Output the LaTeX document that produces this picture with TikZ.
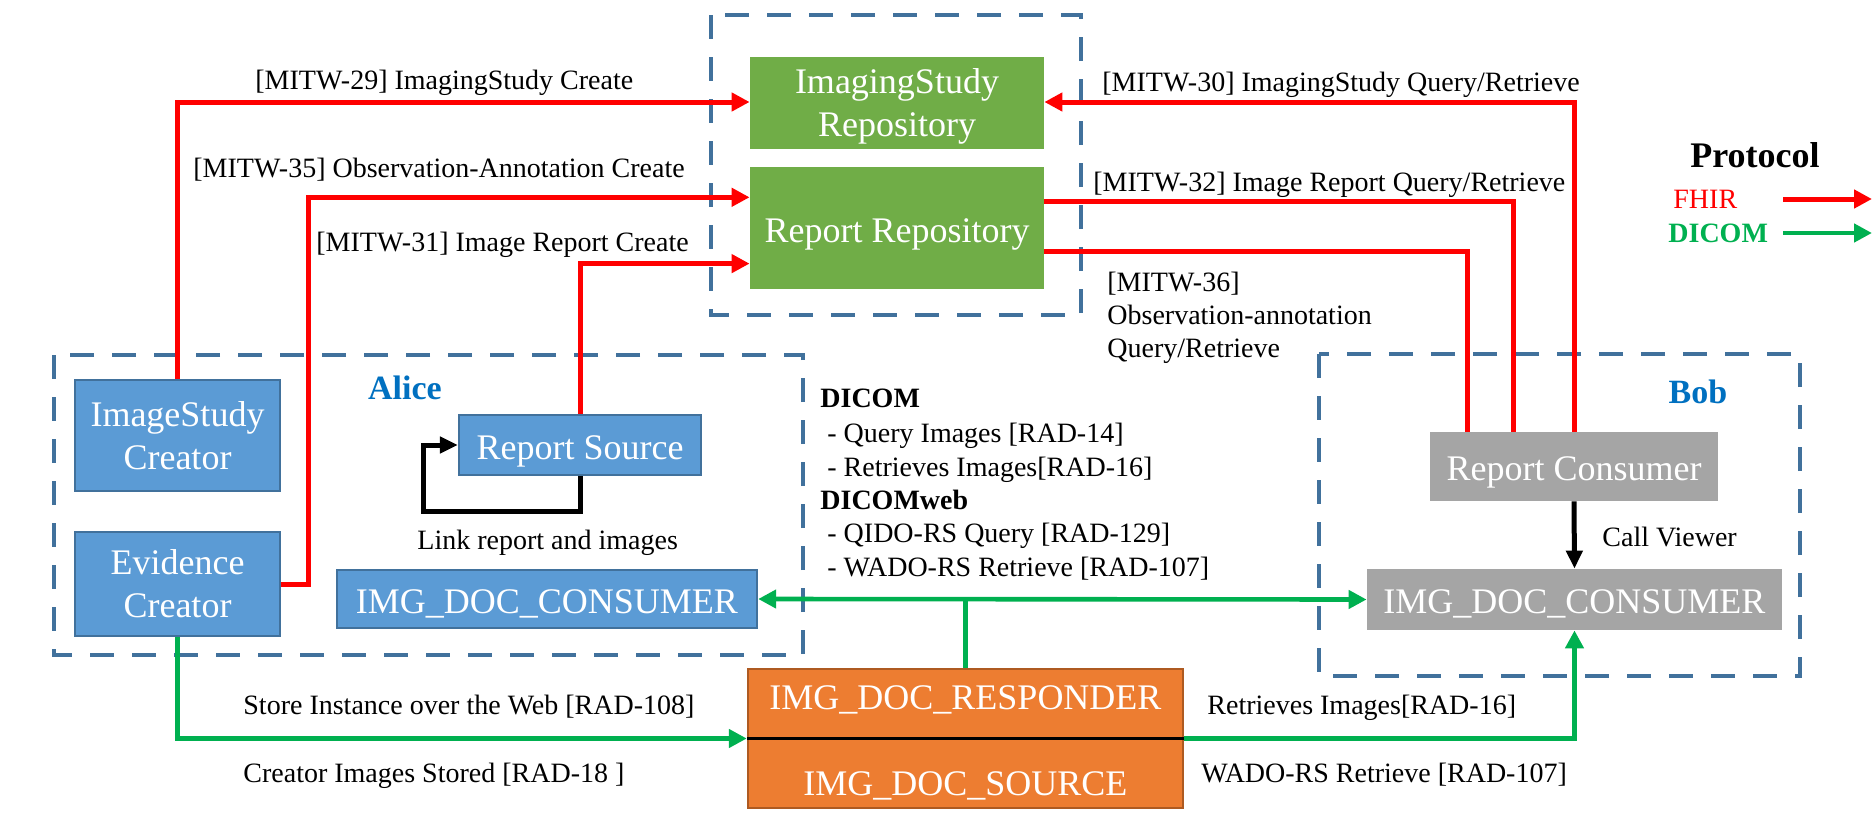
\documentclass[tikz,border=0pt]{standalone}
\usepackage{fontspec}
\setmainfont{Liberation Serif}
\usetikzlibrary{arrows.meta,calc}
\definecolor{fhirred}{RGB}{255,0,0}
\definecolor{dicomgreen}{RGB}{0,176,80}
\definecolor{dashblue}{RGB}{65,113,156}
\definecolor{boxblue}{RGB}{91,155,213}
\definecolor{boxgreen}{RGB}{112,173,71}
\definecolor{boxgray}{RGB}{165,165,165}
\definecolor{boxorange}{RGB}{237,125,49}
\definecolor{orangeedge}{RGB}{174,90,33}
\definecolor{namecol}{RGB}{0,112,192}
\begin{document}
\begin{tikzpicture}[x=0.5pt,y=-0.5pt,
  lab/.style={font=\fontsize{14pt}{17pt}\selectfont, inner sep=0pt, anchor=base west},
  boldlab/.style={lab, font=\fontsize{14pt}{17pt}\selectfont\bfseries},
  boxtext/.style={font=\fontsize{18pt}{21.5pt}\selectfont, text=white, align=center, inner sep=0pt},
  framed/.style={boxtext, text depth=0pt},
  oneline/.style={text height=14pt},
  bluebox/.style={framed, fill=boxblue, draw=dashblue, line width=1.2pt},
  greenbox/.style={framed, fill=boxgreen},
  graybox/.style={framed, fill=boxgray},
  orangebox/.style={fill=boxorange, draw=orangeedge, line width=1.2pt, inner sep=0pt},
  groupbox/.style={draw=dashblue, line width=2.3pt, dash pattern=on 12pt off 9pt},
  namelab/.style={font=\fontsize{17pt}{20pt}\selectfont\bfseries, text=namecol, inner sep=0pt, anchor=base},
  fhirline/.style={draw=fhirred, line width=2.5pt},
  fhirarrow/.style={fhirline, -{Triangle[length=9pt,width=9pt]}},
  dicomline/.style={draw=dicomgreen, line width=2.3pt},
  dicomarrow/.style={dicomline, -{Triangle[length=9pt,width=9pt]}},
  dicomboth/.style={dicomline, {Triangle[length=9pt,width=9pt]}-{Triangle[length=9pt,width=9pt]}},
  blackarrow/.style={draw=black, line width=2.5pt, -{Triangle[length=9pt,width=8pt]}}
]
\useasboundingbox (0,0) rectangle (1876,830);

% group frames
\draw[groupbox] (711,15) rectangle (1081,315);
\draw[groupbox] (54,355) rectangle (803,655);
\draw[groupbox] (1319,354) rectangle (1800,676);

% nodes
\node[greenbox, minimum width=147pt, minimum height=46pt] (isr) at (897,103) {ImagingStudy\\Repository};
\node[greenbox, oneline, minimum width=147pt, minimum height=61pt] (rr) at (897,228) {Report Repository};
\node[bluebox, minimum width=102.5pt, minimum height=55.5pt] (isc) at (177.5,435.5) {ImageStudy\\Creator};
\node[bluebox, minimum width=102.5pt, minimum height=52pt] (evid) at (177.5,584) {Evidence\\Creator};
\node[bluebox, oneline, minimum width=121pt, minimum height=30pt] (rs) at (580,445) {Report Source};
\node[bluebox, oneline, minimum width=210pt, minimum height=29pt] (acons) at (547,599) {IMG\_DOC\_CONSUMER};
\node[orangebox, minimum width=217.5pt, minimum height=69.5pt] (orange) at (965.5,738.5) {};
\node[boxtext, anchor=base] (resp) at (965.5,709) {IMG\_DOC\_RESPONDER};
\node[boxtext, anchor=base] (src) at (965.5,795) {IMG\_DOC\_SOURCE};
\node[graybox, oneline, minimum width=144pt, minimum height=34.5pt] (rc) at (1574,466.5) {Report Consumer};
\node[graybox, oneline, minimum width=207.5pt, minimum height=30.5pt] (bcons) at (1574.5,599.5) {IMG\_DOC\_CONSUMER};

% names
\node[namelab] (alice) at (405,399) {Alice};
\node[namelab] (bob) at (1698,403) {Bob};

% labels
\node[lab] (l29) at (255,89) {[MITW-29] ImagingStudy Create};
\node[lab] (l35) at (193,177) {[MITW-35] Observation-Annotation Create};
\node[lab] (l31) at (316,251) {[MITW-31] Image Report Create};
\node[lab] (l30) at (1102,91) {[MITW-30] ImagingStudy Query/Retrieve};
\node[lab] (l32) at (1093,191) {[MITW-32] Image Report Query/Retrieve};
\node[lab] (l36a) at (1107,291) {[MITW-36]};
\node[lab] (l36b) at (1107,324) {Observation-annotation};
\node[lab] (l36c) at (1107,357) {Query/Retrieve};
\node[lab] (llink) at (417,549) {Link report and images};
\node[lab] (lstore) at (243,714) {Store Instance over the Web [RAD-108]};
\node[lab] (lcreat) at (243,782) {Creator Images Stored [RAD-18 ]};
\node[lab] (lret) at (1207,714) {Retrieves Images[RAD-16]};
\node[lab] (lwado) at (1201,782) {WADO-RS Retrieve [RAD-107]};
\node[lab] (lcall) at (1602,546) {Call Viewer};

\node[boldlab] (d1) at (820,407) {DICOM};
\node[lab] (d2) at (827,442) {- Query Images [RAD-14]};
\node[lab] (d3) at (827,476) {- Retrieves Images[RAD-16]};
\node[boldlab] (d4) at (820,509) {DICOMweb};
\node[lab] (d5) at (827,542) {- QIDO-RS Query [RAD-129]};
\node[lab] (d6) at (827,576) {- WADO-RS Retrieve [RAD-107]};

% legend
\node[font=\fontsize{18pt}{21pt}\selectfont\bfseries, inner sep=0pt, anchor=base] (proto) at (1755,167) {Protocol};
\node[lab, text=fhirred] (lfhir) at (1673,208) {FHIR};
\node[boldlab, text=dicomgreen] (ldicom) at (1668,242) {DICOM};
\coordinate (fs) at (1783,199);
\coordinate (fe) at (1872,199);
\coordinate (ds) at (1783,233);
\coordinate (de) at (1872,233);
\draw[fhirarrow] (fs) -- (fe);
\draw[dicomarrow] (ds) -- (de);

% FHIR connectors
\draw[fhirarrow] (isc.north) |- ($(isr.north west)!.5!(isr.south west)+(0,-1)$);
\draw[fhirarrow] (evid.east) -- ++(27,0) |- ($(rr.north west)!.25!(rr.south west)$);
\draw[fhirarrow] (rs.north) |- ($(rr.north west)!.79!(rr.south west)$);
\draw[fhirarrow] (rc.north) |- ($(isr.north east)!.5!(isr.south east)+(0,-1)$);
\draw[fhirline] ($(rr.north east)!.287!(rr.south east)$) -| ($(rc.north west)!.292!(rc.north east)$);
\draw[fhirline] ($(rr.north east)!.69!(rr.south east)$) -| ($(rc.north west)!.132!(rc.north east)$);

% loop and call viewer
\draw[blackarrow] (rs.south) |- ++(-157,35) |- (rs.west);
\draw[blackarrow] (rc.south) -- (bcons.north);

% DICOM connectors
\draw[dicomboth] (acons.east) -- (bcons.west);
\draw[dicomline] (orange.north) -- (orange.north |- acons.east);
\draw[dicomarrow] (evid.south) |- (orange.west);
\draw[dicomarrow] (orange.east) -| (bcons.south);
\draw[black, line width=1.5pt] (orange.west) -- (orange.east);
\end{tikzpicture}
\end{document}
